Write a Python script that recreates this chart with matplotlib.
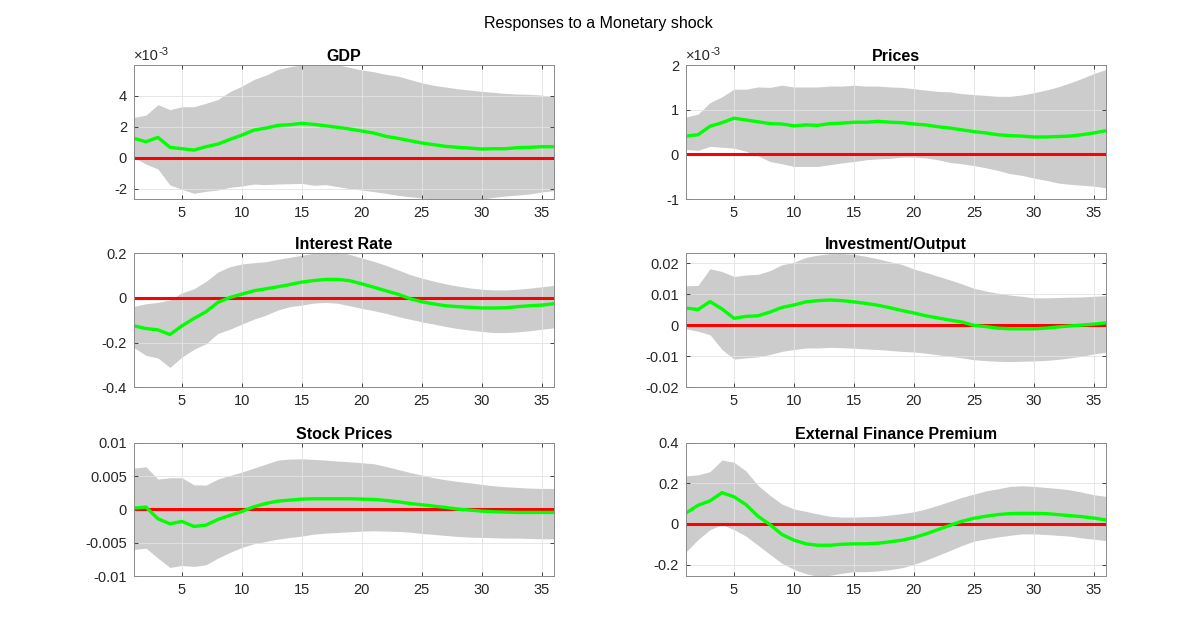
#!/usr/bin/env python3
"""Impulse responses to a monetary shock: median with error bands, 3x2 grid."""

import matplotlib

matplotlib.use("Agg")
import matplotlib.pyplot as plt
from matplotlib.ticker import FuncFormatter

horizon = list(range(1, 37))

# GDP (values in units of 1e-3)
gdp_med = [1.25, 1.03, 1.31, 0.67, 0.58, 0.49, 0.71, 0.88, 1.18, 1.46, 1.78, 1.91,
           2.09, 2.13, 2.22, 2.15, 2.06, 1.96, 1.85, 1.72, 1.59, 1.38, 1.25, 1.10,
           0.95, 0.84, 0.73, 0.67, 0.62, 0.56, 0.58, 0.58, 0.65, 0.67, 0.71, 0.71]
gdp_hi = [2.60, 2.75, 3.42, 3.10, 3.29, 3.29, 3.51, 3.76, 4.26, 4.62, 5.05, 5.33,
          5.70, 5.87, 6.00, 6.10, 6.10, 6.00, 5.83, 5.66, 5.55, 5.38, 5.27, 5.05,
          4.84, 4.67, 4.56, 4.45, 4.37, 4.28, 4.22, 4.15, 4.11, 4.09, 4.04, 3.94]
gdp_lo = [0.02, -0.41, -0.73, -1.76, -2.04, -2.30, -2.17, -2.09, -1.91, -1.83, -1.70, -1.74,
          -1.70, -1.68, -1.66, -1.78, -1.74, -1.87, -2.00, -2.09, -2.19, -2.30, -2.43, -2.52,
          -2.60, -2.72, -2.80, -2.80, -2.75, -2.68, -2.56, -2.47, -2.41, -2.34, -2.21, -2.13]

# Prices (values in units of 1e-3)
prc_med = [0.41, 0.44, 0.63, 0.71, 0.81, 0.77, 0.73, 0.69, 0.68, 0.64, 0.66, 0.65,
           0.69, 0.70, 0.72, 0.72, 0.74, 0.72, 0.71, 0.68, 0.66, 0.62, 0.59, 0.55,
           0.51, 0.48, 0.44, 0.42, 0.41, 0.39, 0.39, 0.40, 0.41, 0.44, 0.48, 0.53]
prc_hi = [0.84, 0.90, 1.16, 1.29, 1.46, 1.46, 1.51, 1.50, 1.55, 1.51, 1.51, 1.51,
          1.53, 1.53, 1.55, 1.53, 1.53, 1.51, 1.50, 1.47, 1.44, 1.41, 1.40, 1.36,
          1.34, 1.32, 1.30, 1.30, 1.33, 1.38, 1.44, 1.51, 1.60, 1.70, 1.81, 1.90]
prc_lo = [0.11, 0.09, 0.18, 0.16, 0.14, 0.07, -0.03, -0.16, -0.21, -0.27, -0.27, -0.27,
          -0.23, -0.19, -0.16, -0.12, -0.10, -0.09, -0.06, -0.06, -0.08, -0.12, -0.18, -0.21,
          -0.25, -0.30, -0.36, -0.43, -0.47, -0.53, -0.58, -0.64, -0.67, -0.69, -0.71, -0.75]

# Interest Rate
ir_med = [-0.125, -0.137, -0.143, -0.164, -0.125, -0.092, -0.062, -0.020, 0.002, 0.017, 0.032, 0.041,
          0.050, 0.060, 0.071, 0.078, 0.083, 0.083, 0.077, 0.063, 0.048, 0.032, 0.017, -0.003,
          -0.017, -0.027, -0.035, -0.039, -0.042, -0.045, -0.045, -0.044, -0.039, -0.035, -0.032, -0.026]
ir_hi = [-0.038, -0.026, -0.020, -0.009, 0.023, 0.041, 0.074, 0.116, 0.140, 0.152, 0.158, 0.162,
         0.173, 0.182, 0.191, 0.200, 0.206, 0.206, 0.195, 0.179, 0.164, 0.146, 0.126, 0.105,
         0.089, 0.075, 0.063, 0.053, 0.045, 0.039, 0.036, 0.036, 0.039, 0.044, 0.050, 0.056]
ir_lo = [-0.223, -0.257, -0.269, -0.311, -0.265, -0.230, -0.205, -0.159, -0.140, -0.117, -0.095, -0.077,
         -0.054, -0.039, -0.032, -0.023, -0.020, -0.024, -0.035, -0.047, -0.057, -0.069, -0.083, -0.095,
         -0.107, -0.117, -0.128, -0.137, -0.144, -0.150, -0.155, -0.155, -0.152, -0.147, -0.140, -0.134]

# Investment/Output
inv_med = [0.0056, 0.0051, 0.0077, 0.0053, 0.0023, 0.0029, 0.0031, 0.0043, 0.0058, 0.0066, 0.0076, 0.0080,
           0.0082, 0.0080, 0.0076, 0.0071, 0.0065, 0.0057, 0.0048, 0.0040, 0.0031, 0.0024, 0.0017, 0.0011,
           0.0000, -0.0004, -0.0009, -0.0011, -0.0011, -0.0011, -0.0009, -0.0005, -0.0002, 0.0001, 0.0004, 0.0008]
inv_hi = [0.0128, 0.0129, 0.0183, 0.0174, 0.0158, 0.0163, 0.0165, 0.0177, 0.0196, 0.0204, 0.0220, 0.0227,
          0.0232, 0.0232, 0.0230, 0.0223, 0.0215, 0.0206, 0.0197, 0.0182, 0.0171, 0.0159, 0.0147, 0.0134,
          0.0120, 0.0111, 0.0104, 0.0098, 0.0094, 0.0089, 0.0089, 0.0090, 0.0091, 0.0092, 0.0094, 0.0096]
inv_lo = [-0.0011, -0.0019, -0.0030, -0.0078, -0.0109, -0.0105, -0.0102, -0.0094, -0.0084, -0.0078, -0.0073, -0.0073,
          -0.0071, -0.0072, -0.0074, -0.0076, -0.0078, -0.0081, -0.0084, -0.0086, -0.0090, -0.0095, -0.0100, -0.0105,
          -0.0111, -0.0114, -0.0116, -0.0117, -0.0116, -0.0115, -0.0113, -0.0110, -0.0105, -0.0100, -0.0092, -0.0087]

# Stock Prices
stk_med = [0.0002, 0.00035, -0.0014, -0.00215, -0.0018, -0.00255, -0.00235, -0.0015, -0.0009, -0.0003, 0.0004, 0.0009,
           0.00125, 0.0014, 0.00155, 0.0016, 0.0016, 0.0016, 0.0016, 0.00155, 0.0015, 0.00135, 0.00115, 0.0009,
           0.0007, 0.0005, 0.0003, 0.00005, -0.0001, -0.00025, -0.00035, -0.0004, -0.00045, -0.00045, -0.00045, -0.00045]
stk_hi = [0.0062, 0.0064, 0.00455, 0.00475, 0.00475, 0.0037, 0.00365, 0.00455, 0.0051, 0.0056, 0.0062, 0.0068,
          0.0074, 0.00755, 0.0076, 0.0075, 0.0074, 0.00725, 0.00715, 0.0070, 0.00685, 0.00645, 0.0060, 0.00555,
          0.00515, 0.00475, 0.00445, 0.0042, 0.0040, 0.00375, 0.00355, 0.0034, 0.0033, 0.0032, 0.00315, 0.00315]
stk_lo = [-0.0060, -0.0058, -0.0073, -0.0087, -0.0084, -0.00855, -0.0083, -0.0073, -0.00645, -0.0057, -0.00515, -0.0048,
          -0.00445, -0.0042, -0.0040, -0.0037, -0.00355, -0.00345, -0.00335, -0.00325, -0.0032, -0.00325, -0.0033, -0.0034,
          -0.0036, -0.00375, -0.0039, -0.00405, -0.00415, -0.0042, -0.00425, -0.0043, -0.0043, -0.00435, -0.0044, -0.0044]

# External Finance Premium
efp_med = [0.054, 0.092, 0.114, 0.154, 0.134, 0.095, 0.038, -0.003, -0.052, -0.080, -0.098, -0.105,
           -0.105, -0.100, -0.098, -0.098, -0.095, -0.088, -0.080, -0.067, -0.049, -0.028, -0.007, 0.013,
           0.028, 0.038, 0.046, 0.051, 0.052, 0.052, 0.051, 0.046, 0.041, 0.036, 0.029, 0.020]
efp_hi = [0.237, 0.242, 0.258, 0.315, 0.304, 0.261, 0.190, 0.141, 0.098, 0.074, 0.062, 0.049,
          0.038, 0.034, 0.034, 0.036, 0.038, 0.044, 0.051, 0.060, 0.074, 0.092, 0.111, 0.131,
          0.147, 0.163, 0.173, 0.185, 0.188, 0.185, 0.180, 0.175, 0.168, 0.157, 0.144, 0.136]
efp_lo = [-0.137, -0.077, -0.028, -0.003, -0.028, -0.060, -0.105, -0.150, -0.194, -0.224, -0.245, -0.258,
          -0.253, -0.243, -0.235, -0.235, -0.232, -0.225, -0.216, -0.199, -0.178, -0.155, -0.131, -0.106,
          -0.085, -0.074, -0.064, -0.056, -0.049, -0.049, -0.052, -0.056, -0.060, -0.069, -0.075, -0.082]

titles = ["GDP", "Prices", "Interest Rate", "Investment/Output",
          "Stock Prices", "External Finance Premium"]
scales = [1e-3, 1e-3, 1, 1, 1, 1]
series = [(gdp_med, gdp_lo, gdp_hi), (prc_med, prc_lo, prc_hi), (ir_med, ir_lo, ir_hi),
          (inv_med, inv_lo, inv_hi), (stk_med, stk_lo, stk_hi), (efp_med, efp_lo, efp_hi)]
ylims = [(-2.67e-3, 5.98e-3), (-1e-3, 2e-3), (-0.4, 0.2), (-0.02, 0.0233),
         (-0.01, 0.01), (-0.257, 0.4)]
yticks = [[-2e-3, 0, 2e-3, 4e-3], [-1e-3, 0, 1e-3, 2e-3], [-0.4, -0.2, 0, 0.2],
          [-0.02, -0.01, 0, 0.01, 0.02], [-0.01, -0.005, 0, 0.005, 0.01],
          [-0.2, 0, 0.2, 0.4]]

plt.rcParams["font.family"] = ["Liberation Sans", "DejaVu Sans"]
plt.rcParams["axes.unicode_minus"] = False

fig = plt.figure(figsize=(11.96, 6.38), dpi=100)
fig.suptitle("Responses to a Monetary shock", y=0.975, fontsize=11.5)

lefts = [0.112, 0.5736]
width = 0.351
rows = [(0.688, 0.210), (0.393, 0.210), (0.097, 0.209)]

renderer = fig.canvas.get_renderer()

for i, title in enumerate(titles):
    bottom, height = rows[i // 2]
    ax = fig.add_axes([lefts[i % 2], bottom, width, height])
    med, lo, hi = series[i]
    s = scales[i]
    ax.fill_between(horizon, [v * s for v in lo], [v * s for v in hi],
                    color="#cccccc", lw=0, zorder=1)
    ax.axhline(0, color="#ff0000", lw=2.2, zorder=3)
    ax.plot(horizon, [v * s for v in med], color="#00ff00", lw=2.4, zorder=4)
    ax.set_xlim(1, 36)
    ax.set_ylim(*ylims[i])
    ax.set_xticks([5, 10, 15, 20, 25, 30, 35])
    ax.set_yticks(yticks[i])
    ax.yaxis.set_major_formatter(FuncFormatter(lambda v, p, s=s: "%g" % round(v / s, 6)))
    if s != 1:
        base = ax.text(0.0, 1.012, "\u00d710", transform=ax.transAxes,
                       fontsize=10.5, color="#262626", ha="left", va="bottom")
        w = base.get_window_extent(renderer).width * 72 / fig.dpi
        ax.annotate("-3", xy=(0.0, 1.012), xycoords="axes fraction",
                    xytext=(w, 5), textcoords="offset points",
                    fontsize=8, color="#262626", ha="left", va="bottom")
    ax.set_title(title, fontsize=11.5, fontweight="bold", pad=3)
    ax.set_axisbelow(False)
    ax.grid(True, color="#e3e3e3", lw=0.6, zorder=2)
    ax.tick_params(direction="in", length=3, width=0.6, labelsize=10.5,
                   colors="#262626", top=True, right=True, pad=5)
    for sp in ax.spines.values():
        sp.set_color("#8a8a8a")
        sp.set_linewidth(0.7)
        sp.set_zorder(5)

fig.savefig("out.png", dpi=100)
plt.close(fig)
